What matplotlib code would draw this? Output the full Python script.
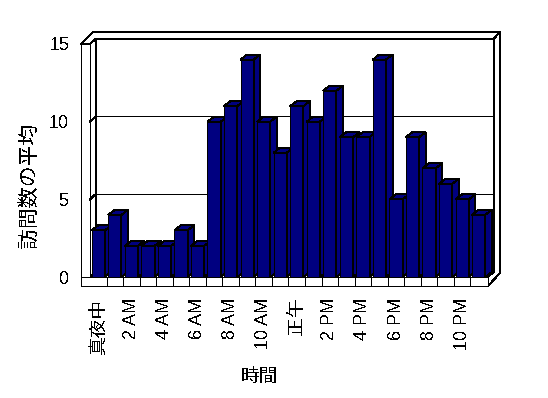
import matplotlib
matplotlib.use("Agg")
import matplotlib.pyplot as plt
from matplotlib.patches import Polygon

# ---- data ----
hours = ["真夜中", "1 AM", "2 AM", "3 AM", "4 AM", "5 AM", "6 AM", "7 AM", "8 AM", "9 AM",
         "10 AM", "11 AM", "正午", "1 PM", "2 PM", "3 PM", "4 PM", "5 PM", "6 PM", "7 PM",
         "8 PM", "9 PM", "10 PM", "11 PM"]
visits = [3, 4, 2, 2, 2, 3, 2, 10, 11, 14, 10, 8, 11, 10, 12, 9, 9, 14, 5, 9, 7, 6, 5, 4]
yticks = [0, 5, 10, 15]
x_label = "時間"
y_label = "訪問数の平均"

CJK = "Noto Sans CJK JP"
plt.rcParams['font.family'] = ["Liberation Sans", CJK, 'DejaVu Sans']
plt.rcParams['text.antialiased'] = False

W, H = 548, 398
fig = plt.figure(figsize=(W / 100, H / 100), dpi=100)
fig.patch.set_facecolor("white")

# front plane in pixels
FL, FR, FB, FT = 90, 487, 277, 44
ax = fig.add_axes([FL / W, (H - FB) / H, (FR - FL) / W, (FB - FT) / H])
n = len(visits)
X0, X1 = -0.5, n - 0.5
Y0, Y1 = 0, 15
ax.set_xlim(X0, X1)
ax.set_ylim(Y0, Y1)
pxx = (X1 - X0) / (FR - FL)
pxy = (Y1 - Y0) / (FB - FT)
LW = 0.72


def P(px, py):
    return (X0 + (px - FL) * pxx, (FB - py) * pxy)


def poly(pts, fc="white", z=1):
    ax.add_patch(Polygon([P(*p) for p in pts], closed=True, facecolor=fc,
                         edgecolor="black", linewidth=LW, clip_on=False,
                         antialiased=False, zorder=z))


def line(p1, p2, z=2):
    a, b = P(*p1), P(*p2)
    ax.plot([a[0], b[0]], [a[1], b[1]], color="black", linewidth=LW,
            clip_on=False, antialiased=False, zorder=z)


# walls
dpx, dpy = 6, 5.5
BL, BT, BR, BB = FL + dpx, FT - dpy, FR + 7, FB - dpy
poly([(BL, BT), (BR, BT), (BR, BB), (BL, BB)])               # back wall
poly([(FL, FT), (BL, BT), (BL, BB), (FL, FB)])               # left wall inner face
poly([(81, FT), (FL, FT), (FL, FB), (81, FB)])               # left wall front face
poly([(81, FT), (93, 32), (500, 32), (BR, BT), (BL, BT), (FL, FT)])  # top of walls
poly([(BR, BT), (500, 32), (500, 273), (488, 286), (488, FB), (BR, BB)])  # right side
poly([(81, FB), (488, FB), (488, 286), (81, 286)])            # floor front face
line((488, FB), (BR, BB))
for v in yticks[1:-1]:
    y = FB - v / pxy
    line((FL, y), (BL, y - dpy))
    line((BL, y - dpy), (BR, y - dpy))
for i in range(1, n):
    x = FL + i / pxx
    line((x, FB), (x, 286))

# bars
w = 0.8
bdx, bdy = 6.5 * pxx, 5 * pxy
navy = "#000080"
for i, v in enumerate(visits):
    l, r = i - w / 2, i + w / 2
    for pts in ([(l, 0), (r, 0), (r, v), (l, v)],
                [(l, v), (r, v), (r + bdx, v + bdy), (l + bdx, v + bdy)],
                [(r, 0), (r + bdx, bdy), (r + bdx, v + bdy), (r, v)]):
        ax.add_patch(Polygon(pts, closed=True, facecolor=navy, edgecolor="black",
                             linewidth=LW, antialiased=False, clip_on=False, zorder=3))

for s in ax.spines.values():
    s.set_visible(False)
ax.set_facecolor("none")

ax.set_yticks(yticks)
ax.set_yticklabels([str(t) for t in yticks], fontsize=13)
ax.tick_params(axis="y", length=0, pad=15)
xt = list(range(0, n, 2))
ax.set_xticks(xt)
ax.set_xticklabels([hours[i] for i in xt], rotation=90, fontsize=13)
ax.tick_params(axis="x", length=0, pad=15)
for lab in ax.get_xticklabels():
    if not lab.get_text()[0].isdigit():
        lab.set_family(CJK)
        lab.set_fontsize(13.5)

fig.text(259 / W, 1 - 376 / H, x_label, ha="center", va="center",
         fontsize=13.5, family=CJK)
fig.text(29 / W, 1 - 185 / H, y_label, ha="center", va="center",
         rotation=90, fontsize=15, family=CJK)

fig.savefig("out.png", dpi=100, facecolor="white")
